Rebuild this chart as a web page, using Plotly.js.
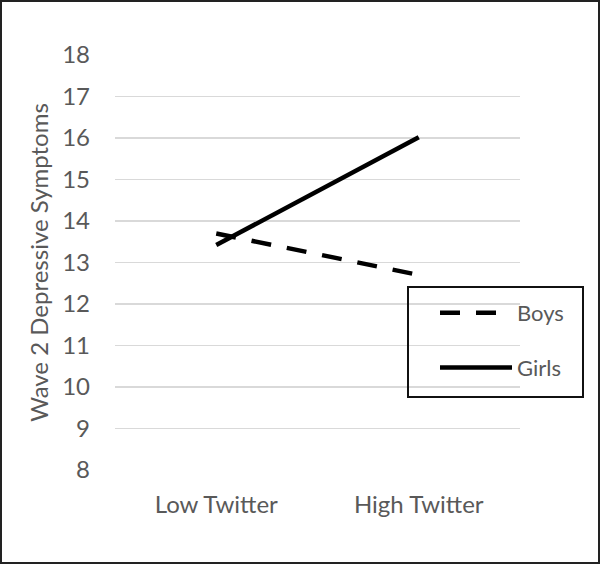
<!DOCTYPE html>
<html>
<head>
<meta charset="utf-8">
<script src="https://cdn.plot.ly/plotly-3.0.1.min.js"></script>
<style>
html,body{margin:0;padding:0;background:#fff;}
#frame{position:absolute;left:0;top:0;width:600px;height:564px;box-sizing:border-box;border:2px solid #222;}
#chart{position:absolute;left:2px;top:2px;width:596px;height:560px;}
</style>
</head>
<body>
<div id="frame"></div>
<div id="chart"></div>
<script>
const categories = ["Low Twitter", "High Twitter"];
const boys = [13.7, 12.7];
const girls = [13.42, 16.02];
const yTicks = [8, 9, 10, 11, 12, 13, 14, 15, 16, 17, 18];

const font = "Lato, 'Open Sans', sans-serif";
const grey = "#595959";

const traces = [
  {x: categories, y: boys, name: "Boys", type: "scatter", mode: "lines",
   legendgroup: "a",
   line: {color: "#000", width: 4.5, dash: "20px,16px"}},
  {x: categories, y: girls, name: "Girls", type: "scatter", mode: "lines",
   legendgroup: "b",
   line: {color: "#000", width: 4.5}}
];

// plot area: 113..518 (x), 53..468 (y) in chart-div pixels
const L = 113, W = 405, T = 53, H = 415;
const px = v => (v - L) / W;
const py = v => (T + H - v) / H;

const layout = {
  width: 596, height: 560,
  margin: {l: L, r: 596 - L - W, t: T, b: 560 - T - H},
  paper_bgcolor: "#fff", plot_bgcolor: "#fff",
  font: {family: font, color: grey, size: 24},
  showlegend: true,
  xaxis: {
    type: "category", range: [-0.5, 1.5],
    showgrid: false, zeroline: false, showline: false,
    ticks: "", ticklabelstandoff: 18,
    tickfont: {family: font, size: 24, color: grey}
  },
  yaxis: {
    range: [8, 18], tickvals: yTicks, ticktext: yTicks.map(String),
    showgrid: true, gridcolor: "#d9d9d9", gridwidth: 1.5,
    zeroline: false, showline: false, ticks: "",
    ticklabelstandoff: 24,
    tickfont: {family: font, size: 24, color: grey},
    title: {text: "Wave 2 Depressive Symptoms", font: {family: font, size: 24, color: grey}, standoff: 6}
  },
  shapes: [
    {type: "rect", xref: "paper", yref: "paper", layer: "above",
     x0: px(406), x1: px(581), y0: py(285), y1: py(395),
     line: {color: "#111", width: 2}, fillcolor: "rgba(0,0,0,0)"}
  ],
  legend: {
    x: px(433), y: py(290), xanchor: "left", yanchor: "top",
    bgcolor: "rgba(0,0,0,0)", borderwidth: 0,
    traceorder: "grouped", tracegroupgap: 23,
    itemwidth: 72,
    font: {family: font, size: 22, color: grey}
  }
};

Plotly.newPlot("chart", traces, layout, {displayModeBar: false, staticPlot: true});
</script>
</body>
</html>
